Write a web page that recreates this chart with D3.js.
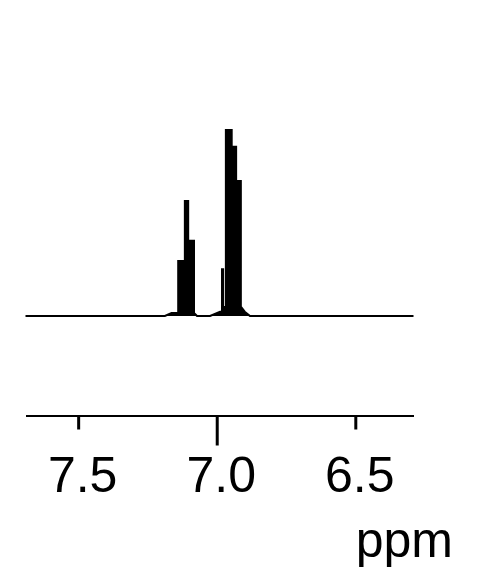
<!DOCTYPE html>
<html>
<head>
<meta charset="utf-8">
<script src="https://cdn.jsdelivr.net/npm/d3@7/dist/d3.min.js"></script>
<style>
  html, body { margin: 0; padding: 0; background: #ffffff; }
  svg { display: block; }
</style>
</head>
<body>
<script>
// Spectrum outline (chemical shift in ppm, relative intensity)
const ppm = [7.69, 7.187, 7.163, 7.139, 7.139, 7.115, 7.115, 7.103, 7.103, 7.082, 7.082, 7.071,
             7.024, 6.988, 6.981, 6.981, 6.977, 6.977, 6.967, 6.967, 6.946, 6.946, 6.930, 6.930,
             6.913, 6.913, 6.899, 6.880, 6.29];
const intensity = [0, 0, 1.6, 1.6, 29.6, 29.6, 61.8, 61.8, 40.5, 40.5, 1.6, 0,
                   0, 2.3, 2.3, 25.1, 25.1, 4.8, 4.8, 100, 100, 91, 91, 72.6,
                   72.6, 5.0, 2.3, 0, 0];
const tickValues = [7.5, 7.0, 6.5];
const tickLabels = ["7.5", "7.0", "6.5"];
const majorTicks = [7.0];
const axisLabel = "ppm";

const W = 479, H = 574;
const svg = d3.select("body").append("svg").attr("width", W).attr("height", H);
svg.append("rect").attr("width", W).attr("height", H).attr("fill", "#ffffff");

const x = d3.scaleLinear().domain([7.69, 6.29]).range([25.5, 413.5]);
const y = d3.scaleLinear().domain([0, 100]).range([316, 130]);

const pts = ppm.map((p, i) => ({ p, v: intensity[i] }));
const area = d3.area().x(d => x(d.p)).y0(y(0)).y1(d => y(d.v));
const line = d3.line().x(d => x(d.p)).y(d => y(d.v));

svg.append("path").datum(pts)
  .attr("d", area)
  .attr("fill", "#000");
svg.append("path").datum(pts)
  .attr("d", line)
  .attr("fill", "none")
  .attr("stroke", "#000")
  .attr("stroke-width", 2)
  .attr("stroke-linejoin", "miter");

const axis = d3.axisBottom(x)
  .tickValues(tickValues)
  .tickFormat((d, i) => tickLabels[i])
  .tickSize(14)
  .tickSizeOuter(0);

const gA = svg.append("g").attr("transform", "translate(0,415.5)").call(axis);
gA.select(".domain").attr("stroke", "#000").attr("stroke-width", 2.2);
gA.selectAll(".tick line")
  .attr("stroke", "#000")
  .attr("stroke-width", 3)
  .attr("y2", d => majorTicks.includes(d) ? 30 : 14);
gA.selectAll(".tick text")
  .attr("y", 76).attr("dy", 0).attr("dx", 4)
  .attr("fill", "#000")
  .style("font-family", "'Liberation Sans', Arial, Helvetica, sans-serif")
  .style("font-size", "50px");

svg.append("text")
  .attr("x", 453).attr("y", 557)
  .attr("text-anchor", "end")
  .style("font-family", "'Liberation Sans', Arial, Helvetica, sans-serif")
  .style("font-size", "50px")
  .attr("fill", "#000")
  .text(axisLabel);
</script>
</body>
</html>
